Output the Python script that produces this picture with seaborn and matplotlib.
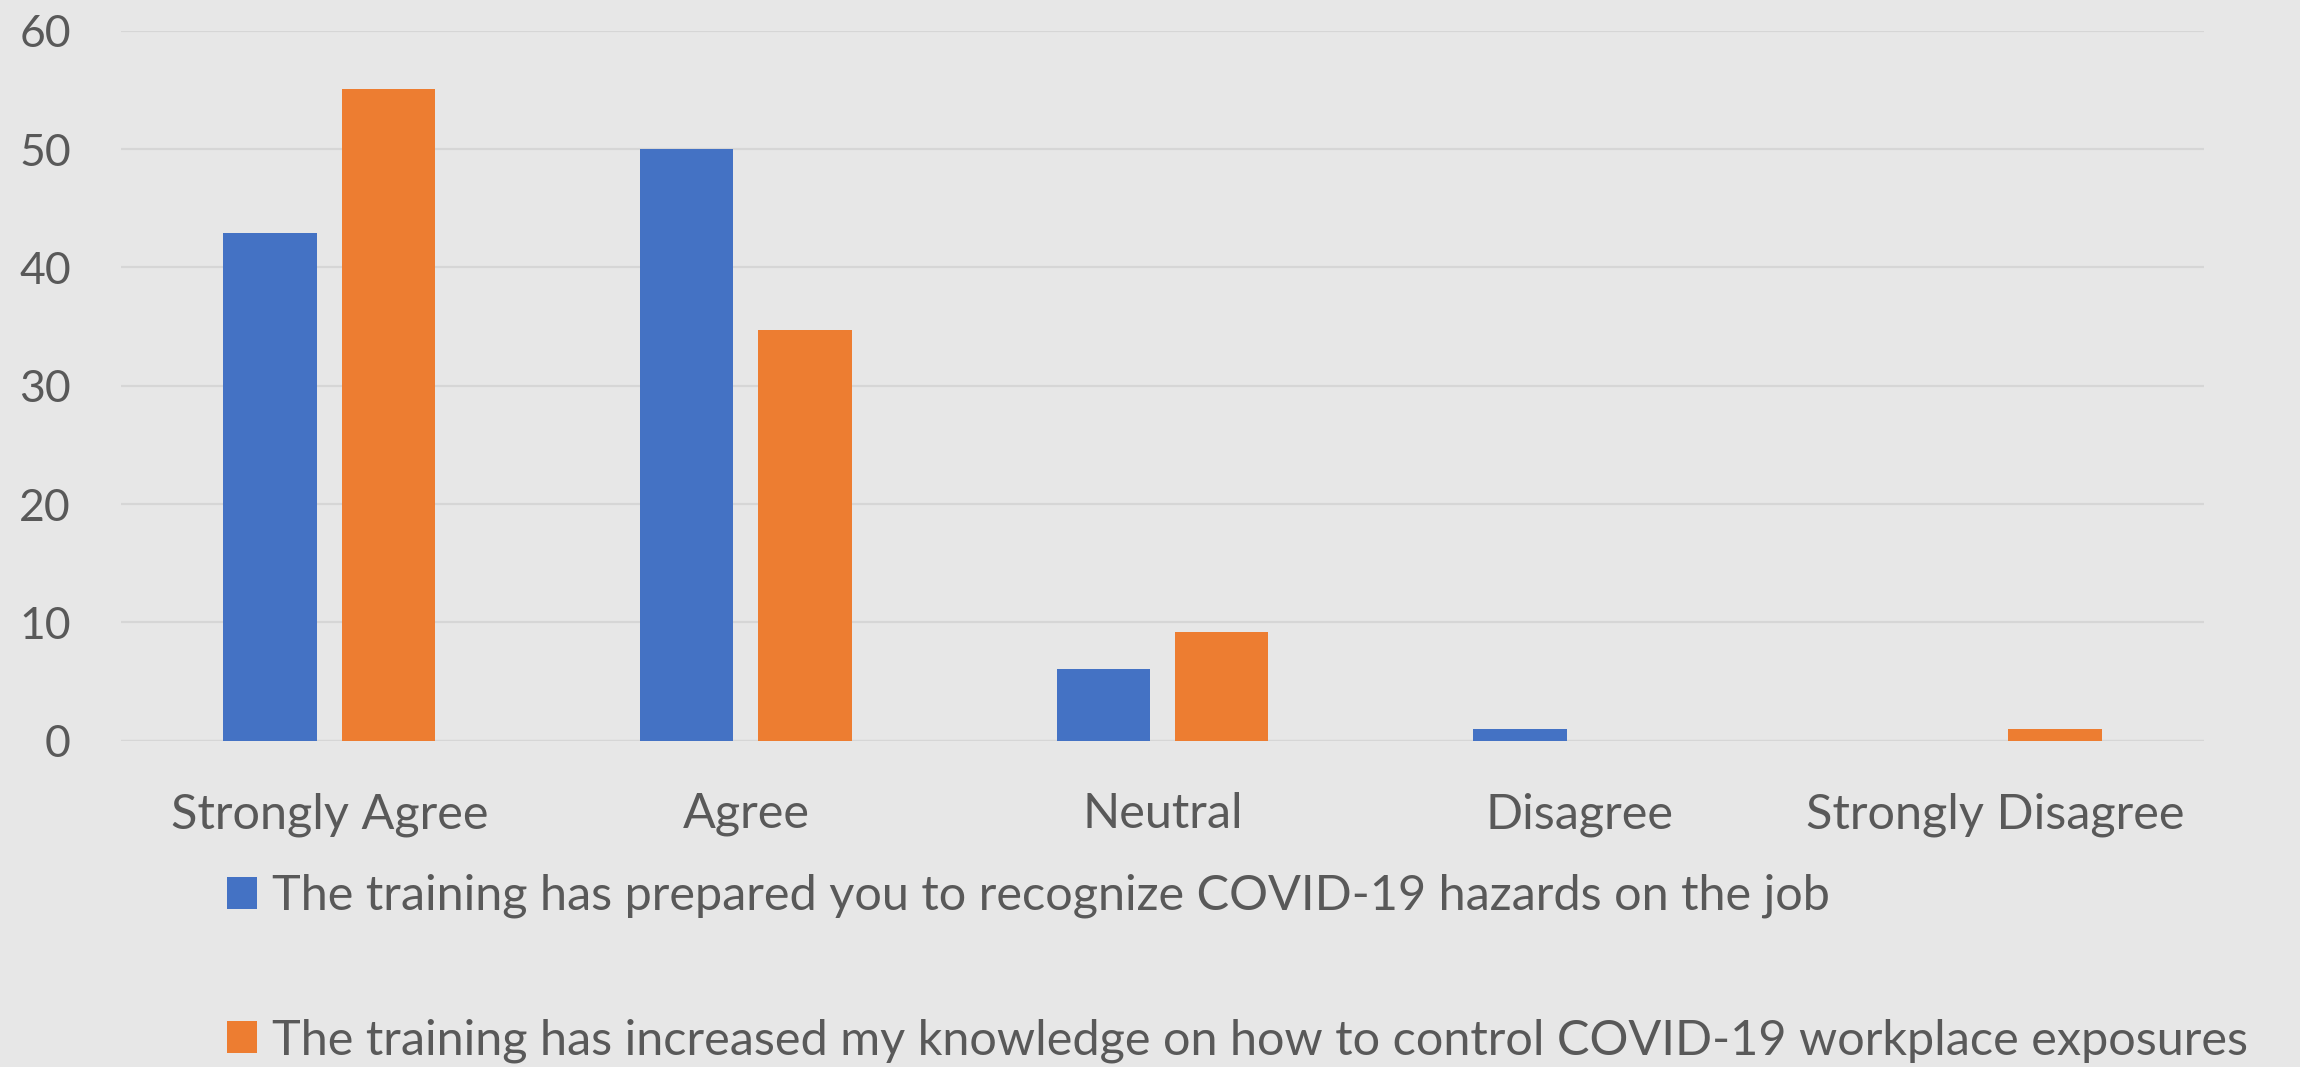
import matplotlib
matplotlib.use("Agg")
import matplotlib.pyplot as plt
import seaborn as sns
import pandas as pd

categories = ["Strongly Agree", "Agree", "Neutral", "Disagree", "Strongly Disagree"]
series_names = [
    "The training has prepared you to recognize COVID-19 hazards on the job",
    "The training has increased my knowledge on how to control COVID-19 workplace exposures",
]
prepared_values = [42.9, 50.0, 6.1, 1.0, 0.0]
knowledge_values = [55.1, 34.7, 9.2, 0.0, 1.0]
y_ticks = [0, 10, 20, 30, 40, 50, 60]

colors = ["#4472C4", "#ED7D31"]
bg = "#E7E7E7"
grid_c = "#D6D6D6"
text_c = "#595959"

rows = []
for name, vals in zip(series_names, [prepared_values, knowledge_values]):
    for c, v in zip(categories, vals):
        rows.append({"category": c, "value": v, "series": name})
df = pd.DataFrame(rows)

sns.set_style("white", {"axes.facecolor": bg, "figure.facecolor": bg})
plt.rcParams["font.family"] = ["Lato", "DejaVu Sans"]

fig = plt.figure(figsize=(23, 10.67), dpi=100)
fig.patch.set_facecolor(bg)
ax = fig.add_axes([121 / 2300, 1 - 740.7 / 1067, (2204 - 121) / 2300, (740.7 - 30.9) / 1067])
ax.set_facecolor(bg)

sns.barplot(data=df, x="category", y="value", hue="series", order=categories,
            hue_order=series_names, palette=colors, saturation=1,
            width=0.568, gap=0.21, linewidth=0, ax=ax)

ax.set_ylim(0, 60)
ax.set_xlim(-0.5, len(categories) - 0.5)
ax.set_yticks(y_ticks)
ax.set_yticklabels([str(t) for t in y_ticks])
ax.yaxis.grid(True, color=grid_c, linewidth=1.6)
ax.set_axisbelow(True)
for s in ax.spines.values():
    s.set_visible(False)
ax.axhline(0, color=grid_c, linewidth=1.6, zorder=0.5)
ax.tick_params(axis="both", length=0, colors=text_c)
ax.tick_params(axis="y", labelsize=32, pad=36)
ax.tick_params(axis="x", labelsize=35, pad=37)
ax.set_xlabel("")
ax.set_ylabel("")

handles, labels = ax.get_legend_handles_labels()
ax.get_legend().remove()
fig.legend(handles, labels, loc="upper left",
           bbox_to_anchor=(227 / 2300, (1067 - 874) / 1067),
           frameon=False, fontsize=35, labelcolor=text_c,
           handlelength=0.62, handleheight=0.62, handletextpad=0.3,
           labelspacing=2.05, borderpad=0, borderaxespad=0)

fig.savefig("out.png", dpi=100, facecolor=bg)
